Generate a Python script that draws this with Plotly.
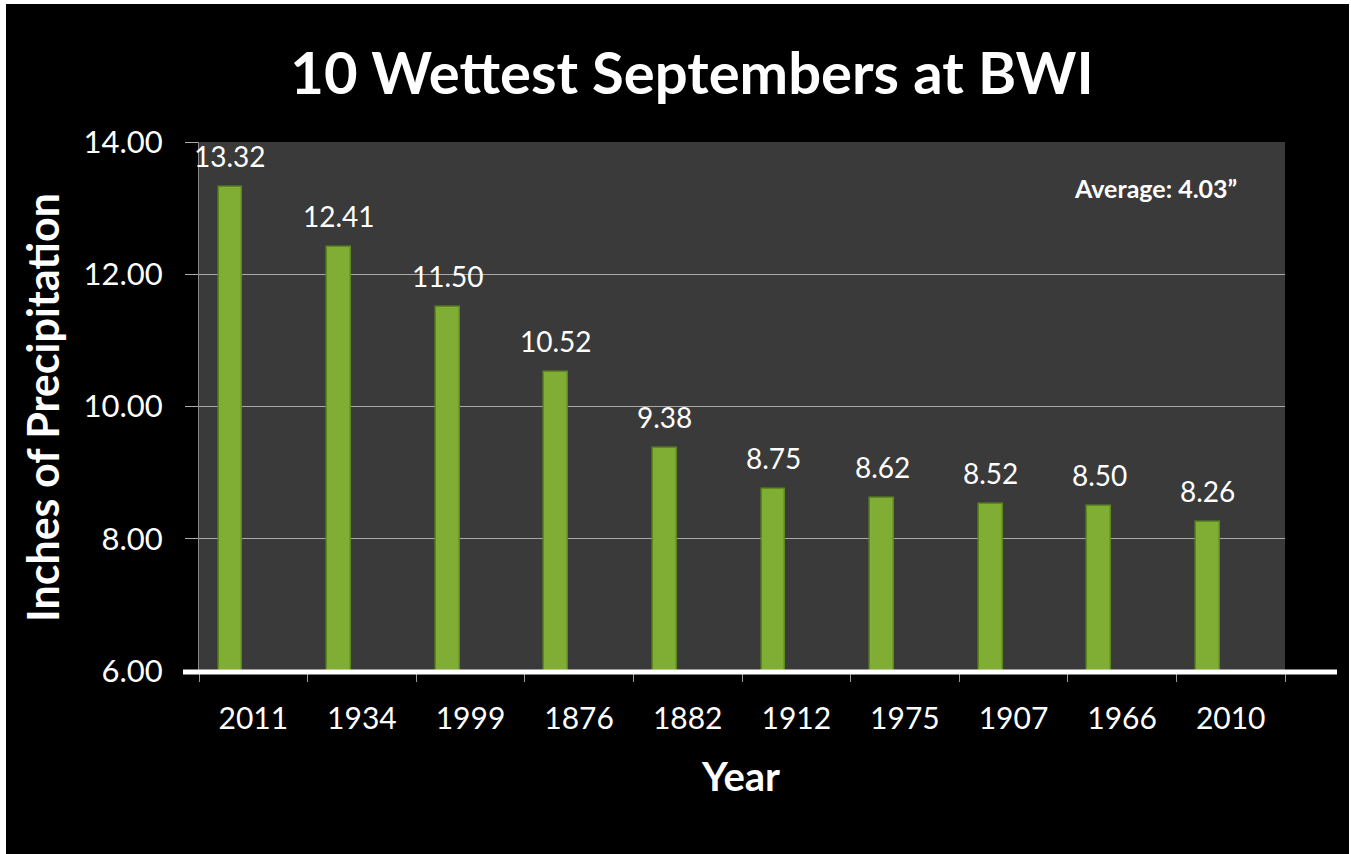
import plotly.graph_objects as go

years = ["2011", "1934", "1999", "1876", "1882", "1912", "1975", "1907", "1966", "2010"]
precip = [13.32, 12.41, 11.50, 10.52, 9.38, 8.75, 8.62, 8.52, 8.50, 8.26]
y_ticks = [6, 8, 10, 12, 14]
title_text = "10 Wettest Septembers at BWI"
avg_text = "Average: 4.03\u201d"

W, H = 1351, 854
L, R, T, B = 199, 1285, 142, 671
pw, ph = R - L, B - T

def px(x):
    return (x - L) / pw

def py(y):
    return (B - y) / ph

xs = list(range(len(years)))
FONT = "Lato"
BAR_OFFSET = -0.32
BAR_WIDTH = 0.22

fig = go.Figure()
fig.add_trace(go.Bar(
    x=xs, y=[v - 6 for v in precip], base=6,
    width=BAR_WIDTH, offset=BAR_OFFSET,
    marker=dict(color="#80ae34", line=dict(color="#5e8a1c", width=1.5)),
    hoverinfo="skip",
))

annotations = []
for i, v in enumerate(precip):
    annotations.append(dict(
        x=i + BAR_OFFSET + BAR_WIDTH / 2, y=v, xref="x", yref="y",
        text=f"{v:.2f}", showarrow=False, xanchor="center", yanchor="middle",
        yshift=31, font=dict(color="white", size=28, family=FONT),
    ))
annotations.append(dict(
    text=avg_text, xref="paper", yref="paper", x=px(1155), y=py(188),
    xanchor="center", yanchor="middle", showarrow=False,
    font=dict(color="white", size=25, family=FONT, weight="bold")))
annotations.append(dict(
    text="Year", xref="paper", yref="paper", x=px(740), y=py(776),
    xanchor="center", yanchor="middle", showarrow=False,
    font=dict(color="white", size=40, family=FONT, weight="bold")))
annotations.append(dict(
    text="Inches of Precipitation", xref="paper", yref="paper", x=px(42), y=py(408),
    xanchor="center", yanchor="middle", showarrow=False, textangle=-90,
    font=dict(color="white", size=43, family=FONT, weight="bold")))

fig.update_layout(
    width=W, height=H,
    margin=dict(l=L, r=W - R, t=T, b=H - B),
    paper_bgcolor="black", plot_bgcolor="#3a3a3a",
    showlegend=False, bargap=0,
    title=dict(text=title_text, x=px(692), xanchor="center", xref="paper",
               y=1 - 74 / H, yanchor="middle",
               font=dict(color="white", size=58, family=FONT, weight="bold")),
    xaxis=dict(
        range=[-0.5, len(years) - 0.5], tickmode="array", tickvals=xs, ticktext=years,
        ticks="", showgrid=False, zeroline=False, showline=False,
        ticklabelstandoff=27,
        tickfont=dict(color="white", size=30, family=FONT),
        minor=dict(tickmode="array", tickvals=[i - 0.5 for i in range(len(years) + 1)],
                   ticks="outside", ticklen=10, tickcolor="#999999", tickwidth=1, showgrid=False),
    ),
    yaxis=dict(
        range=[6, 14], tickmode="array", tickvals=y_ticks,
        ticktext=[f"{v:.2f}" for v in y_ticks],
        ticks="outside", ticklen=13, tickcolor="#aaaaaa",
        ticklabelstandoff=16,
        showgrid=True, gridcolor="#a8a8a8", gridwidth=1, zeroline=False,
        showline=True, linecolor="#888888", linewidth=1,
        tickfont=dict(color="white", size=31, family=FONT),
    ),
    annotations=annotations,
    shapes=[
        dict(type="line", xref="paper", yref="paper", x0=px(183), x1=px(1337), y0=py(672), y1=py(672),
             line=dict(color="white", width=5), layer="above"),
        dict(type="rect", xref="paper", yref="paper", x0=px(0), x1=px(6), y0=py(H), y1=py(0),
             fillcolor="white", line=dict(width=0), layer="above"),
        dict(type="rect", xref="paper", yref="paper", x0=px(0), x1=px(W), y0=py(4), y1=py(0),
             fillcolor="white", line=dict(width=0), layer="above"),
        dict(type="rect", xref="paper", yref="paper", x0=px(1349), x1=px(W), y0=py(H), y1=py(0),
             fillcolor="white", line=dict(width=0), layer="above"),
    ],
)

fig.write_html("out.html", config={"displayModeBar": False},
               post_script="document.body.style.margin='0';document.body.style.overflow='hidden';")
